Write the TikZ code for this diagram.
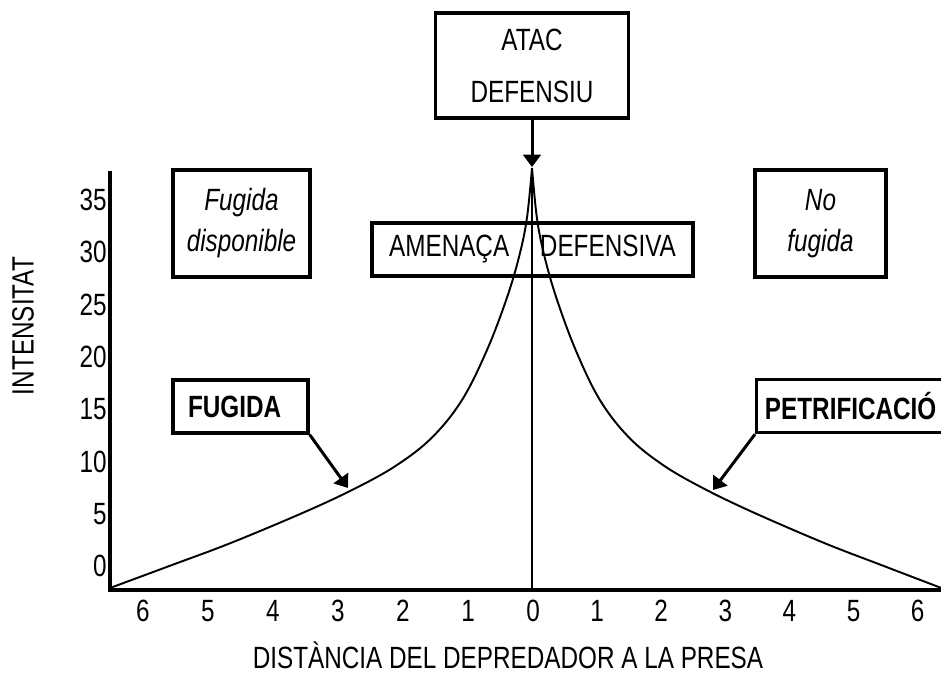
\documentclass[tikz,border=0pt]{standalone}
\usepackage{fontspec}
\setmainfont[FakeStretch=0.79]{Liberation Sans}
\usetikzlibrary{arrows.meta}
\newcommand\mida[1]{\fontsize{17.5}{#1}\selectfont}
\tikzset{
	caixa/.style={draw, line width=1.9pt, inner sep=0pt, align=center},
	fletxa/.style={line width=1.7pt, -{Triangle[length=7pt,width=10pt]}},
	corba/.style={line width=1.1pt},
	eix/.style={line width=2pt},
}

\begin{document}
\begin{tikzpicture}[font=\mida{21}]
			%%%%% START %%%%%
			
			\useasboundingbox (0,0) rectangle (18.82,13.5);
			
			\coordinate (origen) at (2.2,1.70);
			\coordinate (dalt) at (2.2,10.08);
			\coordinate (dreta) at (18.82,1.70);
			\coordinate (base) at (10.64,1.70);
			\coordinate (cim) at (10.64,10.14);
			
			\draw[eix] (dalt) -- (origen) -- (dreta);
			
			\foreach \v [count=\i from 0] in {0,5,...,35}
				\node[anchor=east, inner sep=0pt] (y\v) at (2.14,2.18+1.0457*\i) {\v};
			
			\node (x0) at (10.66,1.28) {0};
			\foreach \k in {1,...,6} {
				\node (xl\k) at (10.66-1.3*\k,1.28) {\k};
				\node (xr\k) at (10.66+1.282*\k,1.28) {\k};
			}
			
			\node[rotate=90] (intensitat) at (0.46,6.98) {INTENSITAT};
			\node[inner sep=1pt] (distancia) at (10.16,0.40) {DISTÀNCIA DEL DEPREDADOR A LA PRESA};
			
			\node[caixa, minimum width=3.86cm, minimum height=2.1cm, font=\mida{29.6}] (atac) at (10.64,12.19) {ATAC\\DEFENSIU};
			\node[caixa, minimum width=6.42cm, minimum height=1.06cm] (amenaca) at (10.65,8.51) {AMENAÇA\quad DEFENSIVA};
			\node[caixa, minimum width=2.74cm, minimum height=2.14cm, font=\itshape\mida{23.3}] (disponible) at (4.83,9.03) {Fugida\\disponible};
			\node[caixa, minimum width=2.62cm, minimum height=2.14cm, font=\itshape\mida{23.3}] (nofugida) at (16.41,9.03) {No\\fugida};
			\node[caixa, minimum height=1.06cm, text width=2.1cm, inner xsep=0.3cm, align=left, font=\bfseries\mida{21}] (fugida) at (4.81,5.37) {FUGIDA};
			\node[caixa, anchor=west, minimum height=1.06cm, minimum width=3.76cm, font=\bfseries\mida{21}] (petri) at (15.1,5.38) {PETRIFICACIÓ};
			
			\draw[corba] (base) -- (cim);
			\foreach \s in {-1,0.97}
				\draw[corba, shift={(base)}, xscale=\s] plot[smooth, tension=0.6] coordinates {(0,8.44) (0.1,7.45) (0.25,6.7) (0.5,5.85) (0.9,4.8) (1.4,3.8) (2.0,3.05) (2.7,2.5) (3.5,2.05) (4.5,1.58) (6.0,0.95) (7.2,0.5) (8.44,0.04)};
			
			\coordinate (puntaE) at (6.96,3.74);
			\coordinate (puntaD) at (14.26,3.70);
			\coordinate (puntaC) at (10.64,10.16);
			
			\draw[fletxa] (atac.south) -- (puntaC);
			\draw[fletxa] (fugida.south east) -- (puntaE);
			\draw[fletxa] (petri.south west) -- (puntaD);
			
			%%%%% END %%%%%
		\end{tikzpicture}
\end{document}
